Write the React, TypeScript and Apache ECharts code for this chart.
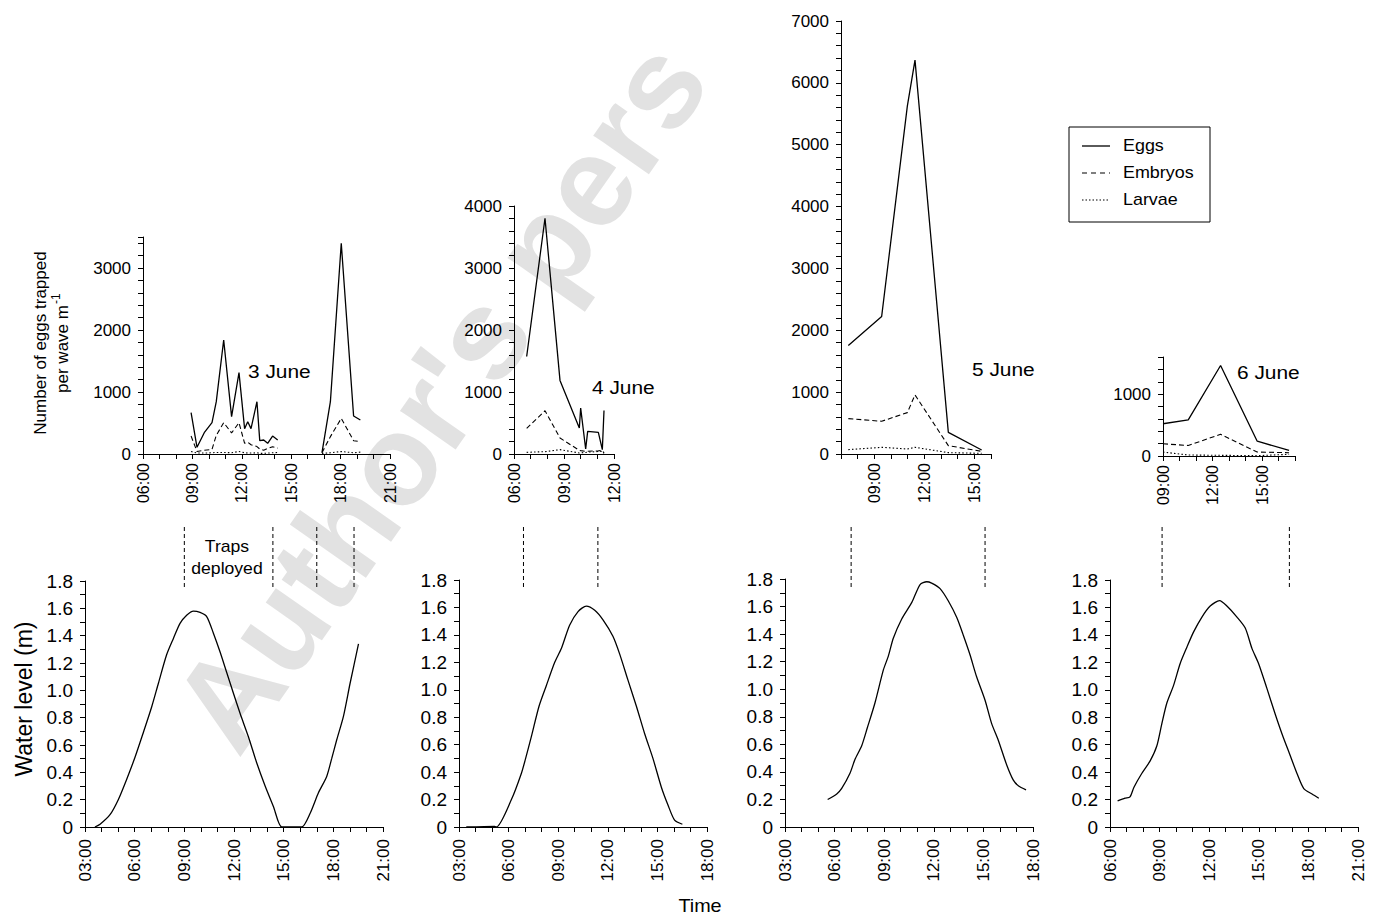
import { useEffect, useRef } from 'react';
import * as echarts from 'echarts';

const FONT = '"Liberation Sans", Arial, Helvetica, sans-serif';

// ---------- Eggs trapped per wave (times in decimal hours; null = no sampling) ----------
// 3 June
const jun3Times = [8.92, 9.28, 9.72, 10.19, 10.45, 10.9, 11.38, 11.83, 12.17, 12.36, 12.56, 12.92, 13.09, 13.33, 13.57, 13.87, 14.18, 15.5, 16.87, 17.38, 18.04, 18.79, 19.2];
const jun3Eggs = [667, 108, 344, 505, 844, 1839, 602, 1312, 409, 521, 409, 844, 215, 226, 172, 290, 226, null, 22, 844, 3398, 613, 548];
const jun3Embryos = [290, 40, 60, 75, 300, 505, 340, 505, 172, 190, 150, 120, 80, 60, 90, 118, 95, null, 22, 280, 575, 215, 199];
const jun3Larvae = [40, 15, 15, 20, 25, 25, 20, 40, 20, 15, 15, 20, 10, 10, 15, 20, 25, null, 10, 20, 40, 20, 30];
// 4 June
const jun4Times = [6.76, 7.86, 8.76, 9.92, 10.0, 10.3, 10.42, 11.06, 11.3, 11.4];
const jun4Eggs = [1573, 3802, 1187, 419, 741, 81, 365, 349, 70, 703];
const jun4Embryos = [413, 698, 258, 59, 55, 43, 45, 50, 59, 16];
const jun4Larvae = [27, 38, 70, 16, 20, 25, 30, 40, 43, 10];
// 5 June
const jun5Times = [7.44, 9.44, 10.98, 11.44, 13.44, 15.44];
const jun5Eggs = [1754, 2224, 5624, 6368, 350, 65];
const jun5Embryos = [572, 529, 669, 955, 135, 43];
const jun5Larvae = [70, 108, 81, 108, 22, 11];
// 6 June
const jun6Times = [9.0, 10.53, 12.49, 14.71, 16.64];
const jun6Eggs = [521, 585, 1463, 239, 90];
const jun6Embryos = [197, 170, 351, 64, 53];
const jun6Larvae = [64, 16, 11, 5, 27];

// ---------- Water level (m) ----------
const wl3Times = [3.6, 3.91, 4.51, 5.01, 5.52, 6.02, 6.52, 7.03, 7.43, 7.93, 8.34, 8.74, 9.14, 9.55, 9.95, 10.35, 10.75, 11.16, 11.56, 11.96, 12.37, 12.87, 13.37, 13.88, 14.38, 14.88, 15.39, 16.09, 16.6, 17.1, 17.6, 17.9, 18.21, 18.61, 19.01, 19.52];
const wl3Level = [0, 0.02, 0.09, 0.2, 0.35, 0.51, 0.69, 0.88, 1.05, 1.26, 1.38, 1.49, 1.55, 1.58, 1.57, 1.54, 1.42, 1.28, 1.13, 0.98, 0.83, 0.66, 0.47, 0.3, 0.15, 0, 0, 0, 0.1, 0.25, 0.37, 0.5, 0.64, 0.81, 1.05, 1.34];
const wl4Times = [3.44, 5.16, 5.26, 6.17, 6.77, 7.03, 7.38, 7.84, 8.28, 8.79, 9.19, 9.69, 10.2, 10.7, 11.21, 11.71, 12.31, 12.72, 13.22, 13.73, 14.23, 14.73, 15.24, 15.64, 16.04, 16.51];
const wl4Level = [0, 0.005, 0, 0.2, 0.39, 0.5, 0.66, 0.88, 1.03, 1.2, 1.3, 1.47, 1.57, 1.61, 1.58, 1.51, 1.39, 1.26, 1.07, 0.88, 0.68, 0.5, 0.29, 0.16, 0.05, 0.02];
const wl5Times = [5.58, 6.13, 6.43, 6.93, 7.23, 7.64, 7.98, 8.44, 8.95, 9.25, 9.55, 10.06, 10.67, 11.17, 11.57, 11.87, 12.38, 12.88, 13.39, 13.79, 14.19, 14.59, 15.1, 15.5, 15.9, 16.41, 16.81, 17.11, 17.58];
const wl5Level = [0.2, 0.24, 0.28, 0.39, 0.49, 0.59, 0.72, 0.9, 1.14, 1.24, 1.37, 1.51, 1.63, 1.76, 1.78, 1.77, 1.73, 1.64, 1.52, 1.39, 1.25, 1.09, 0.92, 0.75, 0.63, 0.45, 0.34, 0.3, 0.27];
const wl6Times = [6.46, 6.91, 7.21, 7.45, 7.92, 8.42, 8.83, 9.13, 9.43, 9.84, 10.24, 10.65, 11.05, 11.56, 12.06, 12.63, 13.07, 13.68, 14.18, 14.59, 14.99, 15.49, 16.0, 16.4, 16.87, 17.31, 17.72, 18.22, 18.63];
const wl6Level = [0.19, 0.21, 0.22, 0.29, 0.39, 0.48, 0.59, 0.75, 0.9, 1.03, 1.19, 1.31, 1.42, 1.53, 1.61, 1.65, 1.61, 1.53, 1.45, 1.3, 1.19, 1.01, 0.82, 0.68, 0.53, 0.39, 0.28, 0.24, 0.21];

// Trap deployment times (dashed markers above the water level panels)
const trapTimes = [[9.0, 14.35, 17.0, 19.25], [6.9, 11.4], [7.0, 15.1], [9.15, 16.85]];

const dayLabels = ['3 June', '4 June', '5 June', '6 June'];
const legendNames = ['Eggs', 'Embryos', 'Larvae'];

const pairs = (t: number[], v: (number | null)[]) => t.map((x, i) => [x, v[i] == null ? '-' : v[i]]);
const pad = (h: number) => (h < 10 ? '0' + h : '' + h) + ':00';

const DASH = [5, 3];
const DOT = [1.5, 2.2];

export default function App() {
  const ref = useRef<HTMLDivElement>(null);
  useEffect(() => {
    if (!ref.current) return;
    const chart = echarts.init(ref.current, undefined, { renderer: 'svg' });

    const topGrids = [
      { left: 143, top: 237, width: 247, height: 217 },
      { left: 514, top: 206, width: 100, height: 248 },
      { left: 841, top: 21, width: 150, height: 433 },
      { left: 1163, top: 357, width: 132, height: 99 },
    ];
    const botGrids = [
      { left: 85, top: 581, width: 298, height: 246 },
      { left: 459, top: 580, width: 248, height: 247 },
      { left: 785, top: 579, width: 248, height: 248 },
      { left: 1110, top: 580, width: 248, height: 247 },
    ];
    const topX = [[6, 21], [6, 12], [7, 16], [9, 17]];
    const topYMax = [3500, 4000, 7000, 1600];
    const botX = [[3, 21], [3, 18], [3, 18], [6, 21]];

    const axisLine = { show: true, onZero: false, lineStyle: { color: '#000', width: 1 } };
    const axisTick = { show: true, length: 5, lineStyle: { color: '#000', width: 1 } };

    const xAxis: any[] = [];
    const yAxis: any[] = [];
    topX.forEach(([mn, mx], i) => {
      xAxis.push({
        type: 'value', gridIndex: i, min: mn, max: mx, interval: 1,
        axisLine, axisTick, splitLine: { show: false },
        axisLabel: { rotate: 90, margin: 9, fontSize: 16, fontFamily: FONT, color: '#000',
          formatter: (v: number) => (Math.round(v) % 3 === 0 ? pad(Math.round(v)) : '') },
      });
      yAxis.push({
        type: 'value', gridIndex: i, min: 0, max: topYMax[i], interval: 200,
        axisLine, axisTick, splitLine: { show: false },
        axisLabel: { margin: 12, fontSize: 17, fontFamily: FONT, color: '#000',
          formatter: (v: number) => (Math.round(v) % 1000 === 0 ? String(Math.round(v)) : '') },
      });
    });
    botX.forEach(([mn, mx], i) => {
      xAxis.push({
        type: 'value', gridIndex: 4 + i, min: mn, max: mx, interval: 1,
        axisLine, axisTick, splitLine: { show: false },
        axisLabel: { rotate: 90, margin: 12, fontSize: 17, fontFamily: FONT, color: '#000',
          formatter: (v: number) => (Math.round(v) % 3 === 0 ? pad(Math.round(v)) : '') },
      });
      yAxis.push({
        type: 'value', gridIndex: 4 + i, min: 0, max: 1.8, interval: 0.1,
        axisLine, axisTick, splitLine: { show: false },
        axisLabel: { margin: 12, fontSize: 19, fontFamily: FONT, color: '#000',
          formatter: (v: number) => {
            const r = Math.round(v * 10);
            if (r % 2 !== 0) return '';
            return r === 0 ? '0' : (r / 10).toFixed(1);
          } },
      });
    });

    const line = (idx: number, name: string, data: any[], dash: any, width = 1.3, smooth: any = false) => ({
      type: 'line', name, xAxisIndex: idx, yAxisIndex: idx, data, symbol: 'none', showSymbol: false,
      connectNulls: false, smooth, silent: true,
      lineStyle: { color: '#000', width, type: dash },
    });

    const eggSets = [
      [jun3Times, jun3Eggs, jun3Embryos, jun3Larvae],
      [jun4Times, jun4Eggs, jun4Embryos, jun4Larvae],
      [jun5Times, jun5Eggs, jun5Embryos, jun5Larvae],
      [jun6Times, jun6Eggs, jun6Embryos, jun6Larvae],
    ] as any[];
    const series: any[] = [];
    eggSets.forEach(([t, e, em, l], i) => {
      series.push(line(i, legendNames[0], pairs(t, e), 'solid', 1.3));
      series.push(line(i, legendNames[1], pairs(t, em), DASH, 1.1));
      series.push(line(i, legendNames[2], pairs(t, l), DOT, 1.1));
    });
    const wl = [[wl3Times, wl3Level], [wl4Times, wl4Level], [wl5Times, wl5Level], [wl6Times, wl6Level]] as any[];
    wl.forEach(([t, v], i) => series.push(line(4 + i, 'Water level', pairs(t, v), 'solid', 1.3, 0.25)));

    chart.setOption({
      animation: false,
      backgroundColor: '#fff',
      textStyle: { fontFamily: FONT },
      grid: [...topGrids, ...botGrids].map((g) => ({ ...g, containLabel: false })),
      xAxis, yAxis, series,
    });

    const txt = (text: string, x: number, y: number, size: number, extra: any = {}, align = 'left') => ({
      type: 'text', x, y, z: 10, ...extra,
      style: { text, x: 0, y: 0, fill: '#000', font: `${size}px ${FONT}`, textAlign: align, textVerticalAlign: 'middle' },
    });

    const graphic: any[] = [];
    // watermark (light grey, behind the chart)
    graphic.push({
      type: 'text', x: 202, y: 734, rotation: (55 * Math.PI) / 180, z: -5, silent: true,
      style: { text: "Author's pers", x: 0, y: 0, fill: '#e2e2e2', font: `bold 128px ${FONT}`, textAlign: 'left', textVerticalAlign: 'middle' },
    });
    // trap deployment markers
    trapTimes.forEach((times, p) => times.forEach((t) => {
      const x = chart.convertToPixel({ xAxisIndex: 4 + p } as any, t) as unknown as number;
      graphic.push({ type: 'line', z: 10, shape: { x1: x, y1: 527, x2: x, y2: 590 }, style: { stroke: '#000', lineWidth: 1, lineDash: [4, 3] } });
    }));
    // day labels
    const dayPos = [[248, 371], [592, 387], [972, 369], [1237, 372]];
    dayLabels.forEach((d, i) => graphic.push(txt(d, dayPos[i][0], dayPos[i][1], 19, { scaleX: 1.1 })));
    graphic.push(txt('Traps', 227, 547, 16, { scaleX: 1.1 }, 'center'));
    graphic.push(txt('deployed', 227, 569, 16, { scaleX: 1.1 }, 'center'));
    graphic.push(txt('Time', 700, 906, 18, { scaleX: 1.1 }, 'center'));
    graphic.push(txt('Water level (m)', 24, 699, 23, { rotation: Math.PI / 2 }, 'center'));
    graphic.push({
      type: 'group', x: 51, y: 343, rotation: Math.PI / 2, z: 10,
      children: [
        { type: 'text', x: 0, y: -11, style: { text: 'Number of eggs trapped', fill: '#000', font: `17px ${FONT}`, textAlign: 'center', textVerticalAlign: 'middle' } },
        { type: 'text', x: -6, y: 11, style: { text: 'per wave m', fill: '#000', font: `17px ${FONT}`, textAlign: 'center', textVerticalAlign: 'middle' } },
        { type: 'text', x: 39, y: 5, style: { text: '-1', fill: '#000', font: `12px ${FONT}`, textAlign: 'left', textVerticalAlign: 'middle' } },
      ],
    });
    // legend
    graphic.push({ type: 'rect', z: 10, shape: { x: 1069, y: 127, width: 141, height: 95 }, style: { fill: '#fff', stroke: '#000', lineWidth: 1 } });
    const legY = [146, 173, 200];
    const legDash: any[] = [null, [5, 4], [1.5, 2]];
    legendNames.forEach((n, i) => {
      graphic.push({ type: 'line', z: 11, shape: { x1: 1082, y1: legY[i], x2: 1110, y2: legY[i] },
        style: { stroke: '#000', lineWidth: i === 0 ? 1.3 : 1.1, lineDash: legDash[i] } });
      graphic.push(txt(n, 1123, legY[i], 16, { scaleX: 1.12, z: 11 }));
    });

    chart.setOption({ graphic });

    return () => chart.dispose();
  }, []);

  return <div ref={ref} style={{ position: 'absolute', left: 0, top: 0, width: 1378, height: 920 }} />;
}
